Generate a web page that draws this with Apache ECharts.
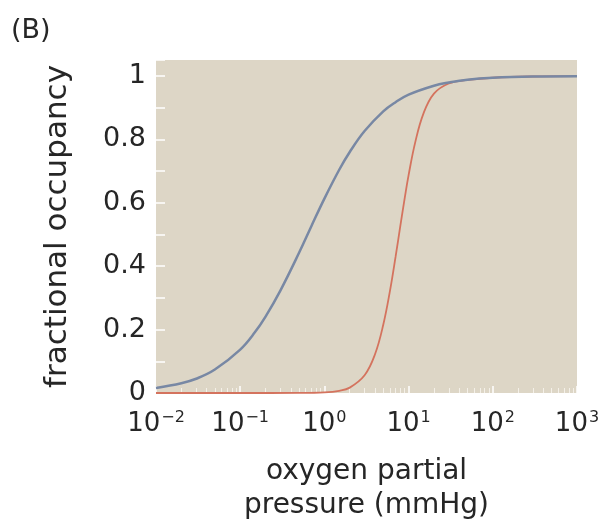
<!DOCTYPE html>
<html>
<head>
<meta charset="utf-8">
<script src="https://cdn.jsdelivr.net/npm/echarts@6/dist/echarts.min.js"></script>
<style>
  html, body { margin: 0; padding: 0; background: #fff; }
  #chart { width: 604px; height: 520px; }
</style>
</head>
<body>
<div id="chart"></div>
<script>
// oxygen partial pressure (mmHg) and fractional occupancy
var blueP = [0.01, 0.02, 0.03, 0.05, 0.1, 0.15, 0.2, 0.3, 0.5, 0.7, 1, 1.5, 2, 3, 5, 7, 10, 20, 30, 50, 100, 300, 1000];
var blueY = [0.016, 0.031, 0.045, 0.074, 0.137, 0.192, 0.241, 0.323, 0.442, 0.526, 0.613, 0.704, 0.760, 0.826, 0.888, 0.917, 0.941, 0.969, 0.979, 0.988, 0.994, 0.998, 0.999];

var redP = [0.01, 0.1, 0.5, 1, 1.5, 2, 3, 4, 5, 6, 7, 8, 9, 10, 12, 15, 20, 30, 50, 100, 300, 1000];
var redY = [0, 0, 0.0003, 0.002, 0.007, 0.017, 0.056, 0.123, 0.215, 0.321, 0.429, 0.529, 0.615, 0.687, 0.791, 0.881, 0.944, 0.976, 0.987, 0.994, 0.998, 0.999];

var yTicks = [0, 0.2, 0.4, 0.6, 0.8, 1];

function pairs(xs, ys) {
  return xs.map(function (x, i) { return [x, ys[i]]; });
}

var font = 'DejaVu Sans';
var ink = '#262626';

var option = {
  backgroundColor: '#ffffff',
  textStyle: { fontFamily: font },
  title: {
    text: '(B)',
    left: 6,
    top: 12,
    textStyle: { fontFamily: font, fontSize: 27, fontWeight: 'normal', color: ink }
  },
  grid: {
    left: 156,
    right: 27,
    top: 60,
    bottom: 127,
    containLabel: false,
    outerBoundsMode: 'none',
    show: true,
    backgroundColor: '#ddd6c6',
    borderWidth: 0
  },
  xAxis: {
    type: 'log',
    logBase: 10,
    min: 0.01,
    max: 1000,
    name: 'oxygen partial\npressure (mmHg)',
    nameLocation: 'middle',
    nameGap: 62,
    nameTextStyle: { fontFamily: font, fontSize: 28, color: ink, lineHeight: 34 },
    axisLine: { show: false },
    axisTick: { show: true, inside: true, length: 7, lineStyle: { color: '#ffffff', width: 1.5 } },
    minorTick: { show: true, splitNumber: 9, length: 5, lineStyle: { color: '#f4f0e8', width: 1 } },
    splitLine: { show: false },
    axisLabel: {
      margin: 17,
      color: ink,
      fontSize: 26,
      formatter: function (v) {
        var e = Math.round(Math.log10(v));
        return '10{s|' + (e < 0 ? '\u2212' + (-e) : e) + '}';
      },
      rich: {
        s: { fontSize: 16, color: ink, verticalAlign: 'top', padding: [0, 0, 12, 1] }
      }
    }
  },
  yAxis: {
    type: 'value',
    min: 0,
    max: 1.05,
    interval: 0.2,
    name: 'fractional occupancy',
    nameLocation: 'middle',
    nameGap: 83,
    nameTextStyle: { fontFamily: font, fontSize: 31, color: ink },
    axisLine: { show: false },
    axisTick: { show: true, inside: true, length: 9, lineStyle: { color: '#ffffff', width: 1.5 } },
    minorTick: { show: true, splitNumber: 2, length: 9, lineStyle: { color: '#ffffff', width: 1.5 } },
    splitLine: { show: false },
    axisLabel: {
      margin: 10,
      color: ink,
      fontSize: 27,
      formatter: function (v) {
        var r = Math.round(v * 10) / 10;
        return yTicks.indexOf(r) >= 0 && Math.abs(v - r) < 1e-6 ? String(r) : '';
      }
    }
  },
  series: [
    {
      name: 'blue',
      type: 'line',
      data: pairs(blueP, blueY),
      smooth: 0.4,
      showSymbol: false,
      lineStyle: { color: '#7888a4', width: 2.5 },
      z: 3
    },
    {
      name: 'red',
      type: 'line',
      data: pairs(redP, redY),
      smooth: 0.4,
      showSymbol: false,
      lineStyle: { color: '#d4735e', width: 1.8 },
      z: 2
    }
  ]
};

var myChart = echarts.init(document.getElementById('chart'));
myChart.setOption(option);
</script>
</body>
</html>
